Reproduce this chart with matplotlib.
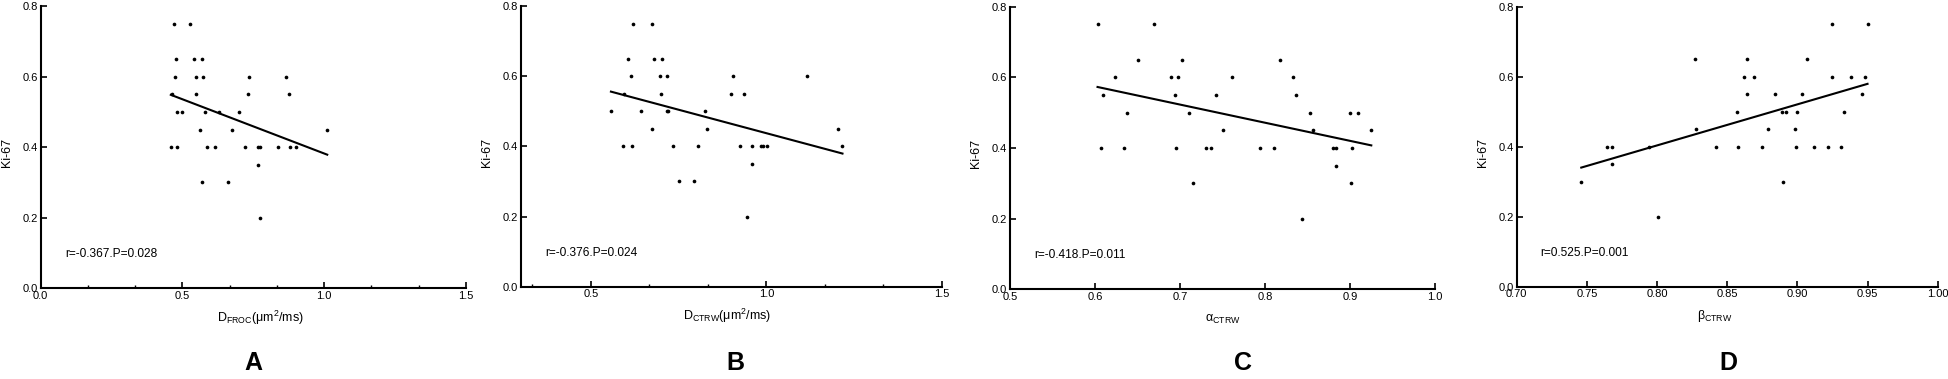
"""
Ki-67 vs diffusion parameters: four scatter panels with linear fits.
"""

import numpy as np
import matplotlib
matplotlib.use("Agg")
import matplotlib.pyplot as plt
from matplotlib.ticker import MultipleLocator

plt.rcParams["font.family"] = ["Liberation Sans", "DejaVu Sans"]
plt.rcParams["mathtext.fontset"] = "custom"
plt.rcParams["mathtext.rm"] = "Liberation Sans"
plt.rcParams["mathtext.it"] = "Liberation Sans:italic"

# Ki-67 values (same patients in every panel, grouped by level)
ki67_a = [0.75] * 2 + [0.65] * 3 + [0.60] * 5 + [0.55] * 4 + [0.50] * 5 + [0.45] * 3 + [0.40] * 10 + [0.35] + [0.30] * 2 + [0.20]
ki67_b = list(ki67_a)
ki67_c = list(ki67_a)
ki67_d = list(ki67_a)

# Panel A: D_FROC
d_froc = [0.472, 0.528,
          0.478, 0.541, 0.569,
          0.474, 0.547, 0.574, 0.736, 0.864,
          0.462, 0.549, 0.732, 0.875,
          0.482, 0.499, 0.580, 0.629, 0.699,
          0.562, 0.674, 1.011,
          0.459, 0.480, 0.586, 0.616, 0.720, 0.765, 0.772, 0.838, 0.881, 0.901,
          0.765,
          0.569, 0.661,
          0.773]

# Panel B: D_CTRW
d_ctrw = [0.621, 0.674,
          0.606, 0.679, 0.702,
          0.613, 0.698, 0.716, 0.904, 1.117,
          0.593, 0.699, 0.898, 0.936,
          0.557, 0.644, 0.718, 0.720, 0.824,
          0.674, 0.832, 1.204,
          0.590, 0.618, 0.735, 0.804, 0.926, 0.959, 0.984, 0.990, 1.002, 1.217,
          0.959,
          0.752, 0.794,
          0.946]

# Panel C: alpha_CTRW
alpha_ctrw = [0.603, 0.670,
              0.651, 0.702, 0.818,
              0.624, 0.689, 0.698, 0.761, 0.833,
              0.609, 0.694, 0.742, 0.837,
              0.638, 0.711, 0.853, 0.900, 0.909,
              0.750, 0.856, 0.925,
              0.607, 0.634, 0.695, 0.731, 0.737, 0.794, 0.810, 0.880, 0.884, 0.902,
              0.884,
              0.715, 0.901,
              0.843]

# Panel D: beta_CTRW
beta_ctrw = [0.925, 0.950,
             0.827, 0.864, 0.907,
             0.862, 0.869, 0.925, 0.938, 0.948,
             0.864, 0.884, 0.903, 0.946,
             0.857, 0.889, 0.892, 0.900, 0.933,
             0.828, 0.879, 0.898,
             0.764, 0.768, 0.794, 0.842, 0.858, 0.875, 0.899, 0.912, 0.922, 0.931,
             0.768,
             0.746, 0.890,
             0.801]

x_labels = ["D$_\\mathregular{FROC}$(μm$^\\mathregular{2}$/ms)",
            "D$_\\mathregular{CTRW}$(μm$^\\mathregular{2}$/ms)",
            "α$_\\mathregular{CTRW}$",
            "β$_\\mathregular{CTRW}$"]
stats_text = ["r=-0.367.P=0.028", "r=-0.376.P=0.024", "r=-0.418.P=0.011", "r=0.525.P=0.001"]
panel_letters = ["A", "B", "C", "D"]

panels = [
    # x, y, position, xlim, major tick step, minor step, xlabel x (axes frac), letter x (fig px)
    (d_froc, ki67_a, [0.0209, 0.2393, 0.2181, 0.7449], (0.0, 1.5), 0.5, 1 / 6, 0.516, 253),
    (d_ctrw, ki67_b, [0.2672, 0.2435, 0.2160, 0.7406], (0.3, 1.5), 0.5, 1 / 6, 0.49, 735),
    (alpha_ctrw, ki67_c, [0.5182, 0.2367, 0.2181, 0.7456], (0.5, 1.0), 0.1, None, 0.5, 1243),
    (beta_ctrw, ki67_d, [0.7782, 0.2435, 0.2160, 0.7388], (0.70, 1.00), 0.05, None, 0.47, 1728),
]

fig = plt.figure(figsize=(19.49, 3.79), dpi=100)

for i, (xs, ys, pos, xlim, major, minor, xlab_x, letter_x) in enumerate(panels):
    ax = fig.add_axes(pos)
    xs = np.asarray(xs)
    ys = np.asarray(ys)
    ax.scatter(xs, ys, s=7, color="black", linewidths=0, zorder=3)

    slope, intercept = np.polyfit(xs, ys, 1)
    fit_x = np.array([xs.min(), xs.max()])
    ax.plot(fit_x, slope * fit_x + intercept, color="black", linewidth=1.5)

    ax.set_xlim(*xlim)
    ax.set_ylim(0, 0.8)
    ax.xaxis.set_major_locator(MultipleLocator(major))
    if minor is not None:
        ax.xaxis.set_minor_locator(MultipleLocator(minor))
    ax.yaxis.set_major_locator(MultipleLocator(0.2))
    if major == 0.05:
        ax.xaxis.set_major_formatter(plt.FormatStrFormatter("%.2f"))
    else:
        ax.xaxis.set_major_formatter(plt.FormatStrFormatter("%.1f"))
    ax.yaxis.set_major_formatter(plt.FormatStrFormatter("%.1f"))

    for side in ("top", "right"):
        ax.spines[side].set_visible(False)
    for side in ("left", "bottom"):
        ax.spines[side].set_linewidth(1.5)
    ax.tick_params(which="major", direction="in", length=4, width=1.2, labelsize=8, pad=2)
    ax.tick_params(which="minor", direction="in", length=2.5, width=1.0)

    ax.text(0.057, 0.12, stats_text[i], transform=ax.transAxes, fontsize=8.6, va="center", ha="left")
    ax.text(xlab_x, -0.105, x_labels[i], transform=ax.transAxes, fontsize=9, ha="center", va="center")
    ax.text(-0.08, 0.48, "Ki-67", transform=ax.transAxes, fontsize=9, rotation=90, ha="center", va="center")

    fig.text(letter_x / 1949, 1 - 363 / 379, panel_letters[i], fontsize=18, fontweight="bold",
             ha="center", va="center")

fig.savefig("out.png", dpi=100)
